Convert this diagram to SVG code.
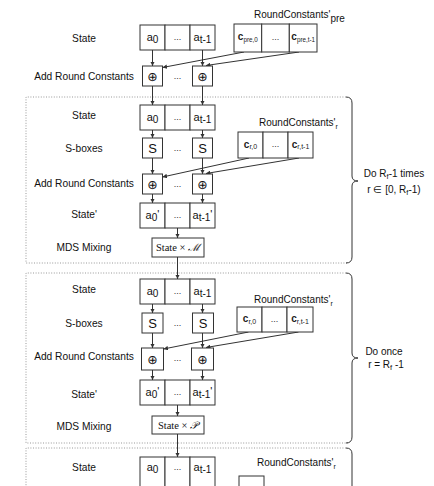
<svg xmlns="http://www.w3.org/2000/svg" width="434" height="486" viewBox="0 0 434 486">
<style>
.bg{fill:#fff}
.bx{fill:#fff;stroke:#333;stroke-width:1}
.lbl{font-family:"Liberation Sans",Arial,sans-serif;font-size:10.2px;fill:#111;text-anchor:middle}
.rc{font-family:"Liberation Sans",Arial,sans-serif;font-size:10px;fill:#111}
.cell{font-family:"Liberation Sans",Arial,sans-serif;font-size:11px;fill:#111;text-anchor:middle}
.dots{font-family:"Liberation Sans",Arial,sans-serif;font-size:9px;fill:#333;text-anchor:middle}
.sb{font-family:"Liberation Sans",Arial,sans-serif;font-size:13px;fill:#111;text-anchor:middle}
.op{font-family:"DejaVu Sans",sans-serif;font-size:12.5px;fill:#111;text-anchor:middle}
.cc{font-family:"Liberation Sans",Arial,sans-serif;font-size:10px;font-weight:bold;fill:#222;text-anchor:middle}
.cc tspan{font-weight:normal}
.mds{font-family:"Liberation Serif","Times New Roman",serif;font-size:10.5px;fill:#111;text-anchor:middle}
.dot{fill:none;stroke:#999;stroke-width:1;stroke-dasharray:1 1.6}
.br{fill:none;stroke:#333;stroke-width:1}
.ln{fill:none;stroke:#333;stroke-width:1;marker-end:url(#ah)}
.side{font-family:"Liberation Sans",Arial,sans-serif;font-size:10px;fill:#111;text-anchor:middle}
</style>
<defs>
<marker id="ah" viewBox="0 0 6 6" refX="6" refY="3" markerWidth="4.5" markerHeight="4.5" orient="auto" markerUnits="userSpaceOnUse"><path d="M0,0 L6,3 L0,6 z" fill="#333"/></marker>
</defs>
<rect class="bg" x="0" y="0" width="434" height="486"/>

<g id="frames">
<path class="dot" d="M346,97 H26 V263 H348"/>
<path class="dot" d="M346,273 H26 V443 H348"/>
<path class="dot" d="M346,448 H26 V486"/>
<path class="br" d="M346,97 Q352,97 352,103 V176 Q352,181 358,181 Q352,181 352,186 V257 Q352,263 346,263"/>
<path class="br" d="M346,273 Q352,273 352,279 V353 Q352,358 358,358 Q352,358 352,363 V437 Q352,443 346,443"/>
<path class="br" d="M346,448 Q352,448 352,454 V486"/>
<text class="side" x="394" y="177">Do R<tspan font-size="7.5" dy="2">f</tspan><tspan dy="-2">-1 times</tspan></text>
<text class="side" x="394" y="193">r ∈ [0, R<tspan font-size="7.5" dy="2">f</tspan><tspan dy="-2">-1)</tspan></text>
<text class="side" x="384" y="355">Do once</text>
<text class="side" x="386" y="368">r = R<tspan font-size="7.5" dy="2">f</tspan><tspan dy="-2"> -1</tspan></text>
</g>

<g id="labels">
<text class="lbl" x="84" y="41.5">State</text>
<text class="lbl" x="84" y="80">Add Round Constants</text>
<text class="lbl" x="84" y="119">State</text>
<text class="lbl" x="84" y="151.5">S-boxes</text>
<text class="lbl" x="84" y="187">Add Round Constants</text>
<text class="lbl" x="84" y="218">State'</text>
<text class="lbl" x="84" y="250.5">MDS Mixing</text>
<text class="lbl" x="84" y="293">State</text>
<text class="lbl" x="84" y="326.5">S-boxes</text>
<text class="lbl" x="84" y="360">Add Round Constants</text>
<text class="lbl" x="84" y="398">State'</text>
<text class="lbl" x="84" y="430">MDS Mixing</text>
<text class="lbl" x="84" y="471">State</text>
</g>

<g id="connectors">
<line class="ln" x1="152.5" y1="50" x2="152.5" y2="66"/>
<line class="ln" x1="202.5" y1="50" x2="202.5" y2="66"/>
<line class="ln" x1="244" y1="52" x2="162.5" y2="67.5"/>
<line class="ln" x1="299" y1="52" x2="206" y2="65.5"/>
<line class="ln" x1="152.5" y1="86" x2="152.5" y2="105"/>
<line class="ln" x1="202.5" y1="86" x2="202.5" y2="105"/>
<line class="ln" x1="152.5" y1="130" x2="152.5" y2="138"/>
<line class="ln" x1="202.5" y1="130" x2="202.5" y2="138"/>
<line class="ln" x1="152.5" y1="158" x2="152.5" y2="174"/>
<line class="ln" x1="202.5" y1="158" x2="202.5" y2="174"/>
<line class="ln" x1="249" y1="158" x2="162.5" y2="177"/>
<line class="ln" x1="299" y1="158" x2="206" y2="173.5"/>
<line class="ln" x1="152.5" y1="194" x2="152.5" y2="203"/>
<line class="ln" x1="202.5" y1="194" x2="202.5" y2="203"/>
<line class="ln" x1="177.5" y1="228" x2="177.5" y2="238"/>
<line class="ln" x1="177.5" y1="257" x2="177.5" y2="279"/>
<line class="ln" x1="152.5" y1="304" x2="152.5" y2="313"/>
<line class="ln" x1="202.5" y1="304" x2="202.5" y2="313"/>
<line class="ln" x1="152.5" y1="333" x2="152.5" y2="348"/>
<line class="ln" x1="202.5" y1="333" x2="202.5" y2="348"/>
<line class="ln" x1="248.5" y1="332" x2="163.5" y2="349"/>
<line class="ln" x1="298.5" y1="332" x2="206" y2="347.5"/>
<line class="ln" x1="152.5" y1="370" x2="152.5" y2="380"/>
<line class="ln" x1="202.5" y1="370" x2="202.5" y2="380"/>
<line class="ln" x1="177.5" y1="405" x2="177.5" y2="416"/>
<line class="ln" x1="177.5" y1="434" x2="177.5" y2="457"/>
</g>

<g id="state0">
<rect class="bx" x="140" y="25" width="25" height="25"/>
<rect class="bx" x="165" y="25" width="25" height="25"/>
<rect class="bx" x="190" y="25" width="25" height="25"/>
<text class="cell" x="152.5" y="41">a<tspan font-size="10" dy="2">0</tspan></text>
<text class="dots" x="177.5" y="40">...</text>
<text class="cell" x="202.5" y="41">a<tspan font-size="10" dy="2">t-1</tspan></text>
</g>

<g id="rcpre">
<text class="rc" x="254" y="17.5">RoundConstants'<tspan dy="4.5">pre</tspan></text>
<rect class="bx" x="234" y="24" width="27.7" height="28"/>
<rect class="bx" x="261.7" y="24" width="27.6" height="28"/>
<rect class="bx" x="289.3" y="24" width="27.7" height="28"/>
<text class="cc" x="247.8" y="40">c<tspan font-size="6.3" dy="1.5">pre,0</tspan></text>
<text class="dots" x="275.5" y="40">...</text>
<text class="cc" x="303.2" y="40">c<tspan font-size="6.3" dy="1.5">pre,t-1</tspan></text>
</g>

<g id="arc0">
<rect class="bx" x="142.5" y="66" width="20" height="20"/>
<rect class="bx" x="192.5" y="66" width="20" height="20"/>
<text class="op" x="152.5" y="80.5">⊕</text>
<text class="dots" x="177.5" y="79">...</text>
<text class="op" x="202.5" y="80.5">⊕</text>
</g>

<g id="state1">
<rect class="bx" x="140" y="105" width="25" height="25"/>
<rect class="bx" x="165" y="105" width="25" height="25"/>
<rect class="bx" x="190" y="105" width="25" height="25"/>
<text class="cell" x="152.5" y="121">a<tspan font-size="10" dy="2">0</tspan></text>
<text class="dots" x="177.5" y="120">...</text>
<text class="cell" x="202.5" y="121">a<tspan font-size="10" dy="2">t-1</tspan></text>
</g>

<g id="sbox1">
<rect class="bx" x="142.5" y="138" width="20" height="20"/>
<rect class="bx" x="192.5" y="138" width="20" height="20"/>
<text class="sb" x="152.5" y="152.5">S</text>
<text class="dots" x="177.5" y="151">...</text>
<text class="sb" x="202.5" y="152.5">S</text>
</g>

<g id="rc1">
<text class="rc" x="259" y="126">RoundConstants'<tspan font-size="7" dy="2.5">r</tspan></text>
<rect class="bx" x="238" y="132" width="25" height="26"/>
<rect class="bx" x="263" y="132" width="25" height="26"/>
<rect class="bx" x="288" y="132" width="25" height="26"/>
<text class="cc" x="250.5" y="147.5">c<tspan font-size="7" dy="1.5">r,0</tspan></text>
<text class="dots" x="275.5" y="147">...</text>
<text class="cc" x="300.5" y="147.5">c<tspan font-size="7" dy="1.5">r,t-1</tspan></text>
</g>

<g id="arc1">
<rect class="bx" x="142.5" y="174" width="20" height="20"/>
<rect class="bx" x="192.5" y="174" width="20" height="20"/>
<text class="op" x="152.5" y="188.5">⊕</text>
<text class="dots" x="177.5" y="187">...</text>
<text class="op" x="202.5" y="188.5">⊕</text>
</g>

<g id="statep1">
<rect class="bx" x="140" y="203" width="25" height="25"/>
<rect class="bx" x="165" y="203" width="25" height="25"/>
<rect class="bx" x="190" y="203" width="25" height="25"/>
<text class="cell" x="152.5" y="219">a<tspan font-size="10" dy="2">0</tspan><tspan dy="-3">'</tspan></text>
<text class="dots" x="177.5" y="218">...</text>
<text class="cell" x="202.5" y="219">a<tspan font-size="10" dy="2">t-1</tspan><tspan dy="-3">'</tspan></text>
</g>

<g id="mds1">
<rect class="bx" x="152" y="238" width="52" height="19"/>
<text class="mds" x="178" y="251">State × <tspan font-style="italic">ℳ</tspan></text>
</g>

<g id="state2">
<rect class="bx" x="140" y="279" width="25" height="25"/>
<rect class="bx" x="165" y="279" width="25" height="25"/>
<rect class="bx" x="190" y="279" width="25" height="25"/>
<text class="cell" x="152.5" y="295">a<tspan font-size="10" dy="2">0</tspan></text>
<text class="dots" x="177.5" y="294">...</text>
<text class="cell" x="202.5" y="295">a<tspan font-size="10" dy="2">t-1</tspan></text>
</g>

<g id="sbox2">
<rect class="bx" x="142" y="313" width="21" height="20"/>
<rect class="bx" x="192.5" y="313" width="21" height="20"/>
<text class="sb" x="152.5" y="327.5">S</text>
<text class="dots" x="177.5" y="326">...</text>
<text class="sb" x="203" y="327.5">S</text>
</g>

<g id="rc2">
<text class="rc" x="254" y="303">RoundConstants'<tspan font-size="7" dy="2.5">r</tspan></text>
<rect class="bx" x="237" y="307" width="25" height="25"/>
<rect class="bx" x="262" y="307" width="25" height="25"/>
<rect class="bx" x="287" y="307" width="26" height="25"/>
<text class="cc" x="249.5" y="322">c<tspan font-size="7" dy="1.5">r,0</tspan></text>
<text class="dots" x="274.5" y="321.5">...</text>
<text class="cc" x="300" y="322">c<tspan font-size="7" dy="1.5">r,t-1</tspan></text>
</g>

<g id="arc2">
<rect class="bx" x="141.5" y="348" width="22" height="22"/>
<rect class="bx" x="191.5" y="348" width="22" height="22"/>
<text class="op" x="152.5" y="363.5">⊕</text>
<text class="dots" x="177.5" y="361">...</text>
<text class="op" x="202.5" y="363.5">⊕</text>
</g>

<g id="statep2">
<rect class="bx" x="140" y="380" width="25" height="25"/>
<rect class="bx" x="165" y="380" width="25" height="25"/>
<rect class="bx" x="190" y="380" width="25" height="25"/>
<text class="cell" x="152.5" y="396">a<tspan font-size="10" dy="2">0</tspan><tspan dy="-3">'</tspan></text>
<text class="dots" x="177.5" y="395">...</text>
<text class="cell" x="202.5" y="396">a<tspan font-size="10" dy="2">t-1</tspan><tspan dy="-3">'</tspan></text>
</g>

<g id="mds2">
<rect class="bx" x="152" y="416" width="52" height="18"/>
<text class="mds" x="178" y="428.5">State × <tspan font-style="italic">𝒫</tspan></text>
</g>

<g id="state3">
<rect class="bx" x="140" y="457" width="25" height="32"/>
<rect class="bx" x="165" y="457" width="25" height="32"/>
<rect class="bx" x="190" y="457" width="25" height="32"/>
<text class="cell" x="152.5" y="471">a<tspan font-size="10" dy="2">0</tspan></text>
<text class="dots" x="177.5" y="470">...</text>
<text class="cell" x="202.5" y="471">a<tspan font-size="10" dy="2">t-1</tspan></text>
</g>

<g id="rc3">
<text class="rc" x="257" y="466">RoundConstants'<tspan font-size="7" dy="2.5">r</tspan></text>
<rect class="bx" x="239" y="476" width="25" height="14"/>
</g>
</svg>
